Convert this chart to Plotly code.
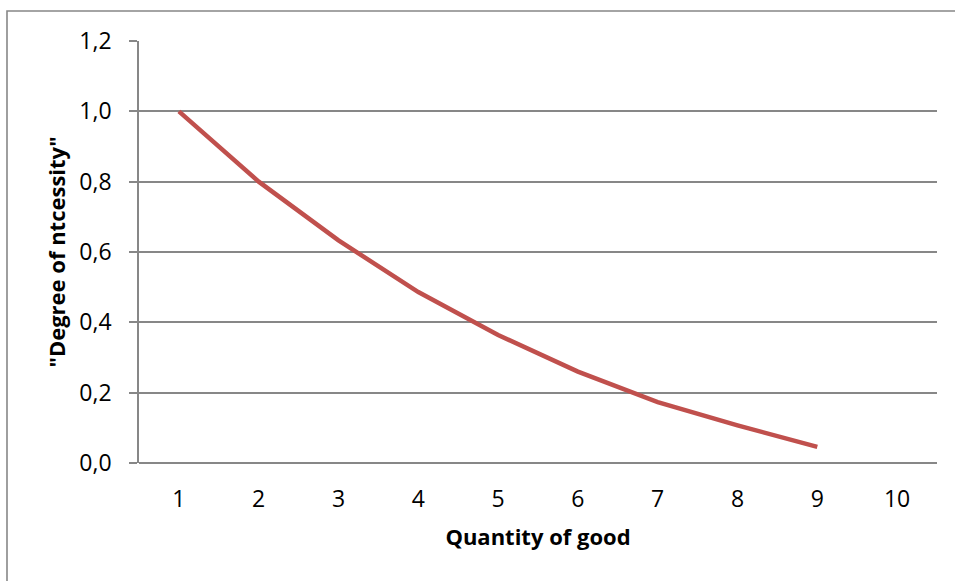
import plotly.graph_objects as go

# Quantity of good (category axis) and the degree of necessity for each unit
quantities = ["1", "2", "3", "4", "5", "6", "7", "8", "9", "10"]
necessity = [1.0, 0.8, 0.633, 0.486, 0.364, 0.26, 0.173, 0.107, 0.046]
y_ticks = [0.0, 0.2, 0.4, 0.6, 0.8, 1.0, 1.2]

W, H = 955, 581
M_L, M_R, M_T, M_B = 139, 18, 41, 118

GRID = "#878787"
LINE = "#C0504D"
FONT = "Open Sans"
TICK_SIZE = 23
TITLE_SIZE = 22

fig = go.Figure()
fig.add_trace(go.Scatter(
    x=quantities[:len(necessity)],
    y=necessity,
    mode="lines",
    line=dict(color=LINE, width=4.5),
    hoverinfo="x+y",
    showlegend=False,
))

fig.update_layout(
    width=W, height=H,
    margin=dict(l=M_L, r=M_R, t=M_T, b=M_B, pad=0),
    paper_bgcolor="white",
    plot_bgcolor="white",
    separators=", ",
    font=dict(family=FONT, size=TICK_SIZE, color="#000000"),
    xaxis=dict(
        type="category",
        categoryorder="array",
        categoryarray=quantities,
        range=[-0.5, len(quantities) - 0.5],
        showgrid=False,
        zeroline=False,
        showline=False,
        ticks="",
        ticklabelstandoff=20,
        tickfont=dict(family=FONT, size=TICK_SIZE),
        title=dict(text="<b>Quantity of good</b>", standoff=16,
                   font=dict(family=FONT, size=TITLE_SIZE)),
        fixedrange=True,
    ),
    yaxis=dict(
        range=[0, 1.2],
        tickvals=y_ticks,
        tickformat=".1f",
        showgrid=True,
        gridcolor=GRID,
        gridwidth=1.6,
        zeroline=True,
        zerolinecolor=GRID,
        zerolinewidth=1.6,
        showline=True,
        linecolor=GRID,
        linewidth=1.6,
        ticks="outside",
        ticklen=8,
        tickcolor=GRID,
        tickwidth=1.6,
        ticklabelstandoff=13,
        tickfont=dict(family=FONT, size=TICK_SIZE),
        title=dict(text="<b>\"Degree of ntcessity\"</b>", standoff=8,
                   font=dict(family=FONT, size=TITLE_SIZE)),
        fixedrange=True,
    ),
    shapes=[
        # chart frame around the whole figure
        dict(type="rect", xref="paper", yref="paper",
             x0=(7 - M_L) / (W - M_L - M_R),
             x1=(W + 10 - M_L) / (W - M_L - M_R),
             y0=(H - M_B - (H + 10)) / (H - M_T - M_B),
             y1=(H - M_B - 11) / (H - M_T - M_B),
             line=dict(color=GRID, width=1.6), layer="below"),
        # x-axis tick extension at the origin
        dict(type="line", xref="paper", yref="y",
             x0=-8 / (W - M_L - M_R), x1=0, y0=0, y1=0,
             line=dict(color=GRID, width=1.6)),
    ],
)

fig.write_html("out.html", config={"displayModeBar": False})
